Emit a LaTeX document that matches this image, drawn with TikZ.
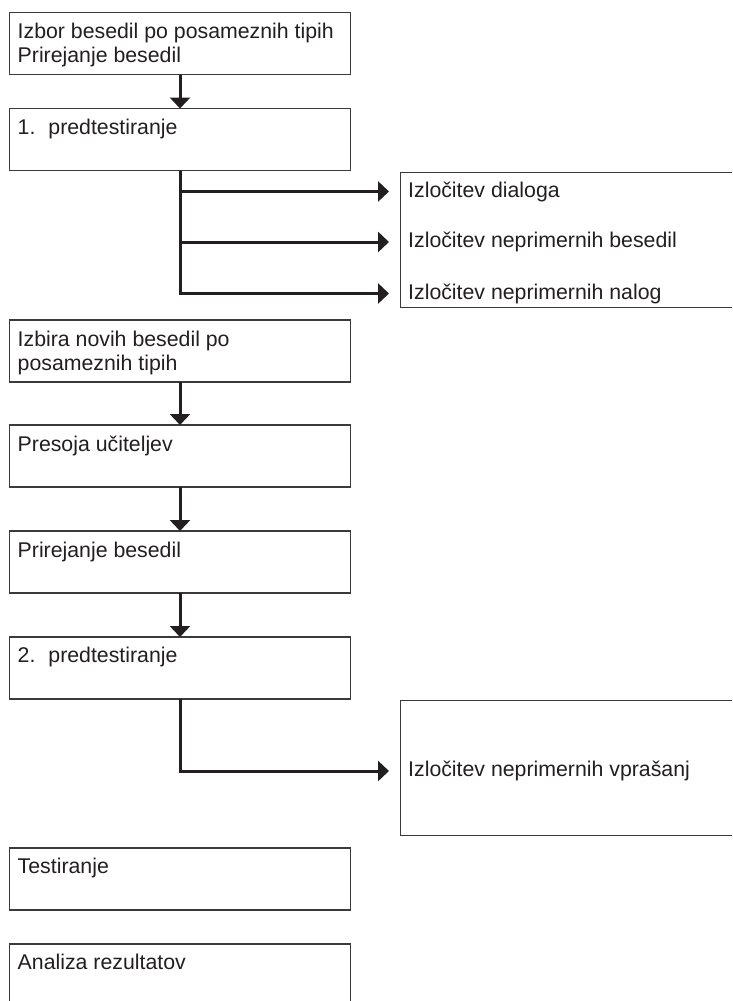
\documentclass[tikz,border=0pt]{standalone}
\usepackage{fontspec}
\setmainfont{Liberation Sans}
\usetikzlibrary{arrows.meta}
\definecolor{ink}{HTML}{231F20}
\definecolor{frameC}{HTML}{3A3A3A}
\tikzset{
  flow/.style={ink,line width=3pt,-{Triangle[length=11pt,width=20pt]}},
  stage/.style={draw=frameC,line width=1.2pt,anchor=north west,inner sep=0pt,
    outer sep=0pt,minimum width=341pt,minimum height=62pt},
  sidebox/.style={stage,minimum width=360pt,minimum height=135pt},
  lab/.style={font=\fontsize{21.3}{24}\selectfont,text=ink,align=left,
    anchor=north west,inner sep=0pt},
  outlab/.style={lab,anchor=west},
}

\begin{document}
\begin{tikzpicture}[x=1pt,y=-1pt]
\fill[white] (0,0) rectangle (732,1001);
\useasboundingbox (0,0) rectangle (732,1001);
\clip (0,0) rectangle (732,1001);

% ---------- main column ----------
\node[stage] (b1) at (9.5,12.5) {};
\node[stage] (b2) at (9.5,108.5) {};
\node[stage] (b3) at (9.5,320) {};
\node[stage] (b4) at (9.5,425) {};
\node[stage] (b5) at (9.5,531) {};
\node[stage] (b6) at (9.5,637) {};
\node[stage] (b7) at (9.5,848) {};
\node[stage] (b8) at (9.5,944) {};

\node[lab] (t1) at ([xshift=8pt,yshift=-10.3pt]b1.north west) {Izbor besedil po posameznih tipih\\Prirejanje besedil};
\node[lab] (t2) at ([xshift=8pt,yshift=-10.3pt]b2.north west) {1.\hspace{13pt}predtestiranje};
\node[lab] (t3) at ([xshift=8pt,yshift=-11pt]b3.north west) {Izbira novih besedil po\\posameznih tipih};
\node[lab] (t4) at ([xshift=8pt,yshift=-10.5pt]b4.north west) {Presoja učiteljev};
\node[lab] (t5) at ([xshift=8pt,yshift=-10.5pt]b5.north west) {Prirejanje besedil};
\node[lab] (t6) at ([xshift=8pt,yshift=-10.3pt]b6.north west) {2.\hspace{13pt}predtestiranje};
\node[lab] (t7) at ([xshift=8pt,yshift=-10.3pt]b7.north west) {Testiranje};
\node[lab] (t8) at ([xshift=8pt,yshift=-10.3pt]b8.north west) {Analiza rezultatov};

\draw[flow] (b1.south) -- (b2.north);
\draw[flow] (b3.south) -- (b4.north);
\draw[flow] (b4.south) -- (b5.north);
\draw[flow] (b5.south) -- (b6.north);

% ---------- side boxes ----------
\node[sidebox] (r1) at (400.5,172.5) {};
\node[outlab] (d1) at (408,191.5) {Izločitev dialoga};
\node[outlab] (d2) at (408,242) {Izločitev neprimernih besedil};
\node[outlab] (d3) at (408,293.5) {Izločitev neprimernih nalog};
\draw[flow,shorten >=11.5pt] (b2.south) |- (r1.west |- d1.west);
\draw[flow,shorten >=11.5pt] (b2.south) |- (r1.west |- d2.west);
\draw[flow,shorten >=11.5pt] (b2.south) |- (r1.west |- d3.west);

\node[sidebox] (r2) at (400.5,700.5) {};
\node[outlab] (v1) at (408,771) {Izločitev neprimernih vprašanj};
\draw[flow,shorten >=11.5pt] (b6.south) |- (r2.west |- v1.west);

\end{tikzpicture}
\end{document}
